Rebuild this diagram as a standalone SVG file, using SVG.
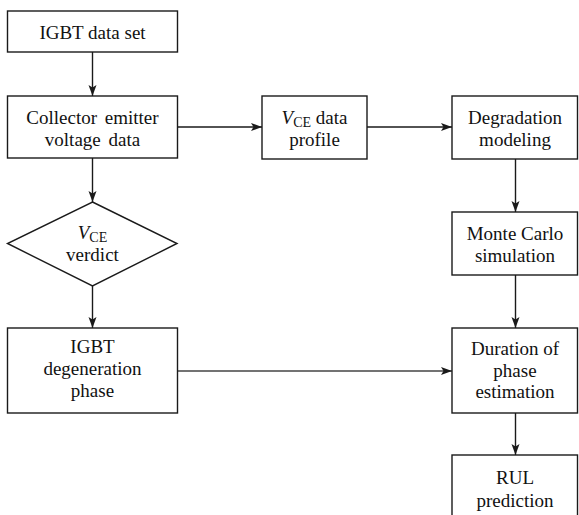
<svg xmlns="http://www.w3.org/2000/svg" width="579" height="515" viewBox="0 0 579 515">
<style>
.box{fill:#fff;stroke:#1a1a1a;stroke-width:1.4}
.c{fill:none;stroke:#1a1a1a;stroke-width:1.4}
</style>
<defs>
<marker id="ah" markerUnits="userSpaceOnUse" markerWidth="12" markerHeight="10" viewBox="0 0 12 10" refX="11" refY="5" orient="auto">
<path d="M0,1 L11,5 L0,9 L2.5,5 Z" fill="#1a1a1a"/>
</marker>
</defs>
<rect width="579" height="515" fill="#fff"/>
<g id="connectors">
<line class="c" x1="92.5" y1="52" x2="92.5" y2="96" marker-end="url(#ah)"/>
<line class="c" x1="177.5" y1="127" x2="262" y2="127" marker-end="url(#ah)"/>
<line class="c" x1="367" y1="127" x2="452" y2="127" marker-end="url(#ah)"/>
<line class="c" x1="92.5" y1="158" x2="92.5" y2="202" marker-end="url(#ah)"/>
<line class="c" x1="92.5" y1="286" x2="92.5" y2="328" marker-end="url(#ah)"/>
<line class="c" x1="515.5" y1="159" x2="515.5" y2="212" marker-end="url(#ah)"/>
<line class="c" x1="515.5" y1="275" x2="515.5" y2="328" marker-end="url(#ah)"/>
<line class="c" x1="178" y1="371" x2="452" y2="371" marker-end="url(#ah)" stroke="#444" style="stroke:#444"/>
<line class="c" x1="515.5" y1="413" x2="515.5" y2="455" marker-end="url(#ah)"/>
</g>
<g id="nodes" font-family="Liberation Serif" font-size="19" text-anchor="middle" fill="#111">
<g id="n1">
<rect class="box" x="7.5" y="11" width="170" height="41"/>
<text x="92.5" y="39">IGBT data set</text>
</g>
<g id="n2">
<rect class="box" x="7.5" y="96" width="170" height="62"/>
<text x="92.5" y="124" word-spacing="3">Collector emitter</text>
<text x="92.5" y="146" word-spacing="3">voltage data</text>
</g>
<g id="n3">
<rect class="box" x="262" y="96" width="105" height="63"/>
<text x="314.5" y="124"><tspan font-style="italic">V</tspan><tspan font-size="14" dy="3">CE</tspan><tspan dy="-3"> data</tspan></text>
<text x="314.5" y="146">profile</text>
</g>
<g id="n4">
<rect class="box" x="452" y="96" width="125.5" height="63"/>
<text x="515" y="124">Degradation</text>
<text x="515" y="146">modeling</text>
</g>
<g id="n5">
<rect class="box" x="452" y="212" width="125.5" height="63"/>
<text x="515" y="240">Monte Carlo</text>
<text x="515" y="262">simulation</text>
</g>
<g id="n6">
<polygon class="box" points="92.5,202 177,243.5 92.5,286 7.5,243.5"/>
<text x="92.5" y="239"><tspan font-style="italic">V</tspan><tspan font-size="14" dy="3">CE</tspan></text>
<text x="92.5" y="261">verdict</text>
</g>
<g id="n7">
<rect class="box" x="7.5" y="328" width="170" height="85"/>
<text x="92.5" y="353">IGBT</text>
<text x="92.5" y="375">degeneration</text>
<text x="92.5" y="397">phase</text>
</g>
<g id="n8">
<rect class="box" x="452" y="328" width="125.5" height="85"/>
<text x="515" y="355">Duration of</text>
<text x="515" y="377">phase</text>
<text x="515" y="398">estimation</text>
</g>
<g id="n9">
<rect class="box" x="452" y="455" width="125.5" height="70"/>
<text x="515" y="484">RUL</text>
<text x="515" y="507">prediction</text>
</g>
</g>
</svg>
